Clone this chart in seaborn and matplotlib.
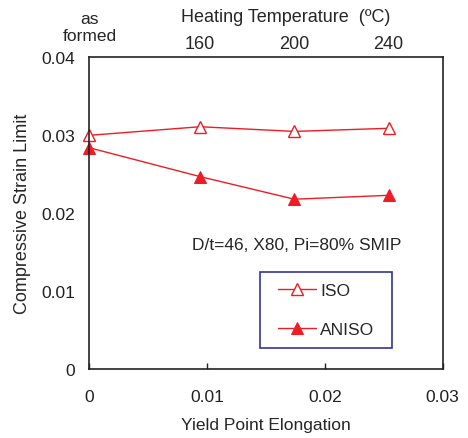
import matplotlib
matplotlib.use("Agg")
import matplotlib.pyplot as plt
import matplotlib.transforms as mtransforms
from matplotlib.patches import Rectangle
import seaborn as sns
import pandas as pd

# Yield point elongation for each condition and the measured strain limits
yield_elong = [0.0, 0.0094, 0.0174, 0.0254]
iso_limit = [0.0300, 0.0311, 0.0305, 0.0309]
aniso_limit = [0.0284, 0.0247, 0.0218, 0.0223]
heat_labels = ["160", "200", "240"]
note = "D/t=46, X80, Pi=80% SMIP"

sns.set_style("white")
plt.rcParams["font.family"] = ["Liberation Sans", "DejaVu Sans"]

red = "#ee1c25"
df = pd.DataFrame({"ype": yield_elong, "ISO": iso_limit, "ANISO": aniso_limit})

fig = plt.figure(figsize=(4.68, 4.39), dpi=100)
ax = fig.add_axes([0.191, 0.157, 0.755, 0.710])

sns.lineplot(data=df, x="ype", y="ISO", ax=ax, color=red, lw=1.0, marker="^",
             markersize=8, markerfacecolor="white", markeredgecolor=red,
             markeredgewidth=1.0, label="ISO", sort=False, clip_on=False)
sns.lineplot(data=df, x="ype", y="ANISO", ax=ax, color=red, lw=1.0, marker="^",
             markersize=8, markerfacecolor=red, markeredgecolor=red,
             label="ANISO", sort=False, clip_on=False)

ax.set_xlim(0, 0.03)
ax.set_ylim(0, 0.04)
ax.set_xticks([0, 0.01, 0.02, 0.03])
ax.set_xticklabels(["0", "0.01", "0.02", "0.03"])
ax.set_yticks([0, 0.01, 0.02, 0.03, 0.04])
ax.set_yticklabels(["0", "0.01", "0.02", "0.03", "0.04"])
ax.tick_params(direction="in", length=4, width=1, labelsize=12.5, pad=14,
               colors="#222222")
ax.tick_params(axis="y", pad=10)
ax.set_xlabel("Yield Point Elongation", fontsize=12.5, labelpad=10)
ax.set_ylabel("Compressive Strain Limit", fontsize=13, labelpad=8)
for s in ax.spines.values():
    s.set_color("#222222")
    s.set_linewidth(1.2)

# Heating temperature scale along the top
top = ax.twiny()
top.set_xlim(ax.get_xlim())
top.set_xticks(yield_elong[1:])
top.set_xticklabels(heat_labels)
top.tick_params(length=0, labelsize=13, pad=4)
for s in top.spines.values():
    s.set_visible(False)
fig.text(286 / 468, 1 - 18 / 439, "Heating Temperature  (ºC)", ha="center",
         va="center", fontsize=13)
trans = mtransforms.blended_transform_factory(ax.transData, ax.transAxes)
ax.text(0.0, 1.045, "as\nformed", transform=trans, ha="center", va="bottom",
        fontsize=12.5, linespacing=1.2)

ax.text(0.0087, 0.0160, note, transform=ax.transData, ha="left",
        va="center", fontsize=12.5)

leg = ax.legend(loc="upper left", bbox_to_anchor=(0.504, 0.311), frameon=False,
                fontsize=12.5, handlelength=2.2, handletextpad=0.25,
                labelspacing=1.4, borderpad=0.6, borderaxespad=0)

# Legend box, widened sideways a little beyond the legend's own extent
fig.canvas.draw()
bb = leg.get_window_extent()
side = 7.5
fig.add_artist(Rectangle((bb.x0 - side, bb.y0), bb.width + 2 * side, bb.height,
                         transform=mtransforms.IdentityTransform(),
                         fill=False, edgecolor="#333399", linewidth=1.2,
                         zorder=5))

fig.savefig("out.png", dpi=100)
